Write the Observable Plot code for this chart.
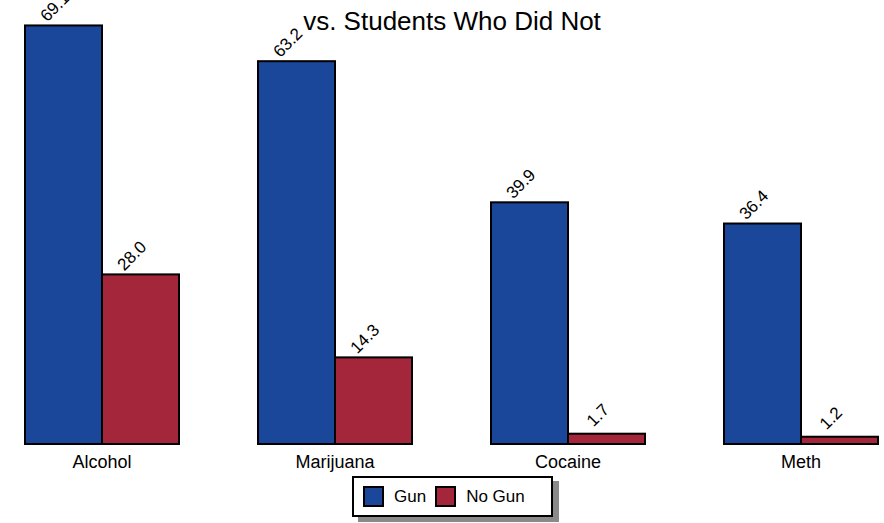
<!DOCTYPE html>
<html>
<head>
<meta charset="utf-8">
<script src="https://cdn.jsdelivr.net/npm/d3@7"></script>
<script src="https://cdn.jsdelivr.net/npm/@observablehq/plot@0.6"></script>
<style>
  html, body { margin: 0; padding: 0; background: #fff; overflow: hidden; }
  body { width: 884px; height: 523px; position: relative; font-family: "Liberation Sans", Arial, sans-serif; }
  #chart { position: absolute; left: 0; top: 0; }
  .title { position: absolute; left: 0; width: 904px; text-align: center; font-size: 26px; line-height: 26px; color: #000; white-space: nowrap; z-index: 2; }
  #legend { position: absolute; left: 352px; top: 476px; width: 197px; height: 37px; border: 2px solid #000; background: #fff; box-shadow: 6px 5px 0 #8a8a8a; display: flex; align-items: center; font-size: 17px; z-index: 3; }
  .sw { width: 17px; height: 17px; border: 2px solid #000; display: inline-block; margin-left: 9px; margin-right: 10px; }
</style>
</head>
<body>
<div id="chart"></div>
<div class="title" style="top:-27px">Drug Use Among Students Who Reported Carrying a Gun</div>
<div class="title" style="top:8px">vs. Students Who Did Not</div>
<div id="legend"></div>
<script>
const categories = ["Alcohol", "Marijuana", "Cocaine", "Meth"];
const seriesNames = ["Gun", "No Gun"];
const gunValues = [69.1, 63.2, 39.9, 36.4];
const noGunValues = [28.0, 14.3, 1.7, 1.2];
const seriesColors = ["#1a479a", "#a3263b"];

const data = [];
categories.forEach((c, i) => {
  data.push({category: c, series: seriesNames[0], value: gunValues[i]});
  data.push({category: c, series: seriesNames[1], value: noGunValues[i]});
});

const plot = Plot.plot({
  width: 884,
  height: 476,
  marginTop: 20,
  marginBottom: 32,
  marginLeft: 23,
  marginRight: 5,
  style: {fontFamily: "'Liberation Sans', Arial, sans-serif", background: "transparent"},
  fx: {domain: categories, padding: 0.335, label: null},
  x: {domain: seriesNames, padding: 0, axis: null},
  y: {domain: [0, 70], axis: null},
  color: {domain: seriesNames, range: seriesColors},
  marks: [
    Plot.axisFx({anchor: "bottom", tickSize: 0, tickPadding: 11, fontSize: 18, label: null}),
    Plot.barY(data, {fx: "category", x: "series", y: "value", fill: "series", stroke: "#000", strokeWidth: 2}),
    Plot.text(data, {fx: "category", x: "series", y: "value", text: d => d.value.toFixed(1),
      rotate: -45, textAnchor: "middle", lineAnchor: "middle", dx: -9, dy: -19, fontSize: 17, fill: "#000"})
  ]
});
document.getElementById("chart").appendChild(plot);

const legend = document.getElementById("legend");
seriesNames.forEach((s, i) => {
  const sw = document.createElement("span");
  sw.className = "sw";
  sw.style.background = seriesColors[i];
  legend.appendChild(sw);
  const t = document.createElement("span");
  t.textContent = s;
  legend.appendChild(t);
});
</script>
</body>
</html>
